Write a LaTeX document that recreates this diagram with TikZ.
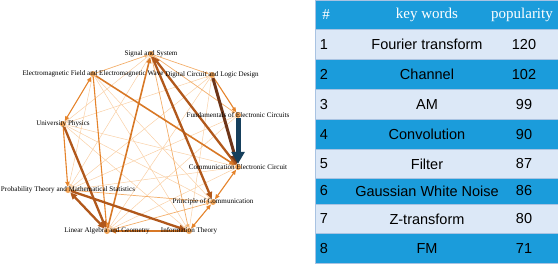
\documentclass[tikz,border=0pt]{standalone}
\usepackage{fontspec}
\setmainfont{Liberation Serif}
\setsansfont{Liberation Sans}
\usetikzlibrary{arrows.meta,backgrounds}
\definecolor{kwblue}{HTML}{1B9CDB}
\definecolor{kwpale}{HTML}{DCE8F7}
\definecolor{kwline}{HTML}{A9C3E2}
\definecolor{nddot}{HTML}{F2A457}
\definecolor{edfaint}{HTML}{F9D0A6}
\definecolor{edlight}{HTML}{F3AE6A}
\definecolor{edorange}{HTML}{E5832A}
\definecolor{edbrown}{HTML}{B1581B}
\definecolor{eddark}{HTML}{6E3518}
\definecolor{ednavy}{HTML}{163F5C}

\begin{document}
\begin{tikzpicture}[
    x=1pt, y=-1pt,
    dot/.style={circle, fill=nddot, inner sep=0pt, minimum size=6pt},
    course/.style={font=\fontsize{7.1}{8}\selectfont},
    faint/.style={draw=edfaint, line width=0.5pt, >={Triangle[length=3pt,width=2.6pt]}, ->},
    light/.style={draw=edlight, line width=0.7pt, >={Triangle[length=3.5pt,width=3pt]}, ->},
    mid/.style={draw=edorange, line width=1.1pt, >={Triangle[length=5pt,width=4pt]}, ->},
    strong/.style={draw=edorange!75!edbrown, line width=1.6pt, >={Triangle[length=6pt,width=5pt]}, ->},
    heavy/.style={draw=edbrown, line width=2.3pt, >={Triangle[length=7pt,width=6pt]}, ->},
    darkest/.style={draw=eddark, line width=3pt, >={Triangle[length=9pt,width=8pt]}, ->},
    navy/.style={draw=ednavy, line width=5pt, >={Triangle[length=12pt,width=13pt]}, ->},
    hdr/.style={text=white, font=\fontsize{15}{17}\selectfont},
    cell/.style={font=\sffamily\fontsize{14.5}{16}\selectfont}
  ]
  \useasboundingbox (0,0) rectangle (558,266);

  % Course network
  \node[dot, label={[course]center:Signal and System}] (ss) at (151,54) {};
  \node[dot, label={[course]center:Electromagnetic Field and Electromagnetic Wave}] (em) at (93,74) {};
  \node[dot, label={[course]center:Digital Circuit and Logic Design}] (dc) at (212,75) {};
  \node[dot, label={[course]center:Fundamentals of Electronic Circuits}] (fe) at (238,115) {};
  \node[dot, label={[course]center:University Physics}] (up) at (63,124) {};
  \node[dot, label={[course]center:Communication Electronic Circuit}] (ce) at (238,167) {};
  \node[dot, label={[course]center:Probability Theory and Mathematical Statistics}] (pt) at (68,190) {};
  \node[dot, label={[course]center:Principle of Communication}] (pc) at (213,202) {};
  \node[dot, label={[course]center:Linear Algebra and Geometry}] (la) at (107,231) {};
  \node[dot, label={[course]center:Information Theory}] (it) at (189,231) {};

  \begin{scope}[on background layer]
    % faint links
    \draw[faint] (em) -- (it);
    \draw[faint] (em) -- (pc);
    \draw[faint] (em) -- (pt);
    \draw[faint] (up) -- (ce);
    \draw[faint] (up) -- (pc);
    \draw[faint] (up) -- (it);
    \draw[faint] (up) -- (dc);
    \draw[faint] (ss) -- (up);
    \draw[faint] (ss) -- (pt);
    \draw[faint] (dc) -- (la);
    \draw[faint] (dc) -- (pt);
    \draw[faint] (fe) -- (la);
    \draw[faint] (fe) -- (pt);
    \draw[faint] (ce) -- (pt);
    \draw[faint] (ce) -- (la);
    \draw[faint] (it) -- (dc);
    % light links
    \draw[light] (em) -- (ss);
    \draw[light] (la) -- (pc);
    \draw[light] (pt) -- (pc);
    \draw[light] (ss) -- (dc);
    \draw[light] (ss) -- (fe);
    \draw[light] (ss) -- (it);
    % medium links
    \draw[mid] (em) -- (la);
    \draw[mid, <->] (up) -- (em);
    \draw[mid] (up) -- (pt);
    \draw[mid] (dc) -- (fe);
    \draw[mid, <->] (ce) -- (pc);
    \draw[mid, <->] (pc) -- (it);
    \draw[strong] (em) -- (ce);
    \draw[strong] (la) -- (ss);
    \draw[strong] (it) -- (la);
    % heavy links
    \draw[heavy] (ce) -- (ss);
    \draw[heavy] (ss) -- (pc);
    \draw[heavy] (pt) -- (it);
    \draw[heavy] (up) -- (la);
    \draw[heavy, <->] (pt) -- (la);
    \draw[darkest] (dc) -- (ce);
    \draw[navy] (fe) -- (ce);
  \end{scope}

  % Keyword table
  \fill[kwblue] (315,0) rectangle (558,29.5);
  \fill[kwpale] (315,29.5) rectangle (558,59.5);
  \fill[kwblue] (315,59.5) rectangle (558,89.5);
  \fill[kwpale] (315,89.5) rectangle (558,119.5);
  \fill[kwblue] (315,119.5) rectangle (558,149.5);
  \fill[kwpale] (315,149.5) rectangle (558,178.5);
  \fill[kwblue] (315,178.5) rectangle (558,204);
  \fill[kwpale] (315,204) rectangle (558,233.5);
  \fill[kwblue] (315,233.5) rectangle (558,263.5);
  \draw[kwline, line width=0.8pt] (315,29.5) -- (558,29.5) (315,59.5) -- (558,59.5)
    (315,89.5) -- (558,89.5) (315,119.5) -- (558,119.5) (315,149.5) -- (558,149.5)
    (315,178.5) -- (558,178.5) (315,204) -- (558,204) (315,233.5) -- (558,233.5);
  \draw[kwline, line width=0.8pt] (315,0) rectangle (558,263.5);

  \node[hdr] (h-num) at (326,14.75) {\#};
  \node[hdr] (h-word) at (427,14.75) {key words};
  \node[hdr] (h-pop) at (522,14.75) {popularity};

  \node[cell] (n1) at (324,44.5) {1};
  \node[cell] (w1) at (427,44.5) {Fourier transform};
  \node[cell] (p1) at (524,44.5) {120};
  \node[cell] (n2) at (324,74.5) {2};
  \node[cell] (w2) at (427,74.5) {Channel};
  \node[cell] (p2) at (524,74.5) {102};
  \node[cell] (n3) at (324,104.5) {3};
  \node[cell] (w3) at (427,104.5) {AM};
  \node[cell] (p3) at (524,104.5) {99};
  \node[cell] (n4) at (324,134.5) {4};
  \node[cell] (w4) at (427,134.5) {Convolution};
  \node[cell] (p4) at (524,134.5) {90};
  \node[cell] (n5) at (324,164) {5};
  \node[cell] (w5) at (427,164) {Filter};
  \node[cell] (p5) at (524,164) {87};
  \node[cell] (n6) at (324,191) {6};
  \node[cell] (w6) at (427,191) {Gaussian White Noise};
  \node[cell] (p6) at (524,191) {86};
  \node[cell] (n7) at (324,219) {7};
  \node[cell] (w7) at (427,219) {Z-transform};
  \node[cell] (p7) at (524,219) {80};
  \node[cell] (n8) at (324,248.5) {8};
  \node[cell] (w8) at (427,248.5) {FM};
  \node[cell] (p8) at (524,248.5) {71};
\end{tikzpicture}
\end{document}
